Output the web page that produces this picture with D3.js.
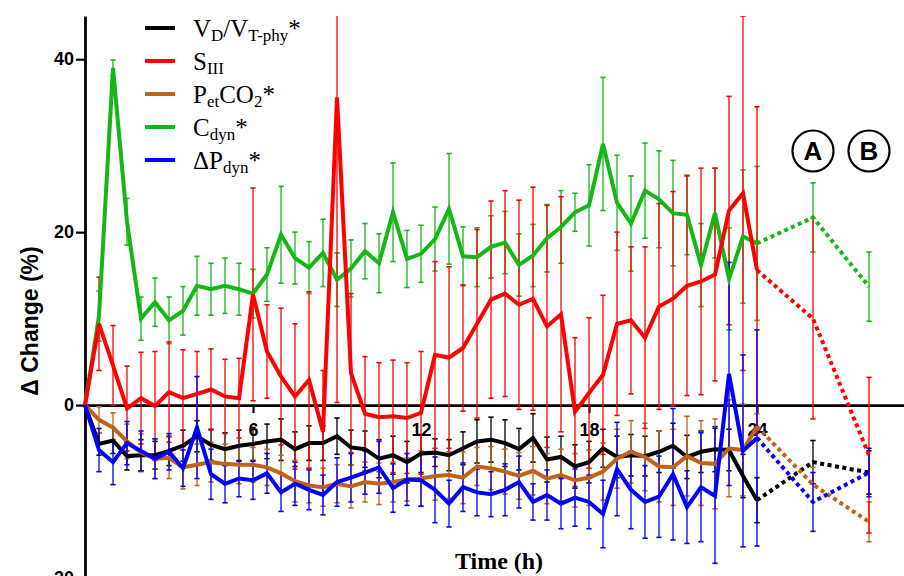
<!DOCTYPE html>
<html>
<head>
<meta charset="utf-8">
<script src="https://cdn.jsdelivr.net/npm/d3@7"></script>
<style>
  body { margin: 0; background: #fff; }
</style>
</head>
<body>
<div id="chart"></div>
<script>
// ---- data (% change from baseline, mean and error) ----
var hours = [0, 0.5, 1, 1.5, 2, 2.5, 3, 3.5, 4, 4.5, 5, 5.5, 6, 6.5, 7, 7.5, 8, 8.5, 9, 9.5, 10, 10.5, 11, 11.5, 12,
             12.5, 13, 13.5, 14, 14.5, 15, 15.5, 16, 16.5, 17, 17.5, 18, 18.5, 19, 19.5, 20, 20.5, 21, 21.5, 22, 22.5, 23, 23.5, 24];
var followHours = [26, 28];        // A and B
var followLabels = ["A", "B"];
var xTicks = [6, 12, 18, 24];
var yTicks = [-20, 0, 20, 40];

var vdvt = [0, -4.5, -4.1, -5.9, -5.8, -5.8, -5.3, -4.7, -3.6, -4.6, -5.1, -4.7, -4.5, -4.2, -4.0, -5.1, -4.4,
            -4.4, -3.6, -4.9, -5.1, -6.2, -5.8, -6.6, -5.6, -5.5, -5.8, -5.0, -4.2, -4.0, -4.4, -5.1, -3.8, -6.3, -6.0, -7.1, -6.6,
            -5.0, -6.0, -5.8, -5.9, -5.4, -4.7, -6.0, -5.4, -5.1, -5.2, -8.2, -11.0];
var vdvtErr = [0, 1.3, 1.5, 1.6, 1.8, 1.6, 1.7, 1.8, 1.8, 1.8, 1.9, 1.8, 1.9, 2.0, 2.4, 2.0, 2.0,
               2.0, 2.1, 2.0, 2.1, 2.2, 2.2, 2.4, 2.2, 1.6, 1.8, 1.9, 2.5, 2.6, 2.7, 2.4, 2.8, 2.6, 2.4, 2.5, 2.4,
               2.2, 2.4, 2.4, 2.3, 2.4, 2.6, 2.5, 2.4, 2.6, 2.4, 2.5, 2.6];
var vdvtFollow = [-6.6, -7.8];
var vdvtFollowErr = [2.5, 2.5];

var siii = [0, 9.4, 4.6, -0.4, 0.8, -0.1, 1.5, 0.8, 1.3, 1.8, 1.0, 0.8, 12.8, 6.2, 3.3, 1.0, 2.9,
            -3.1, 35.6, 3.7, -1.0, -1.4, -1.3, -1.5, -0.9, 5.8, 5.5, 6.6, 9.4, 12.2, 12.9, 11.6, 12.3, 9.1, 10.5, -0.8, 1.4,
            3.5, 9.4, 9.8, 7.8, 11.4, 12.3, 13.8, 14.3, 15.1, 22.5, 24.5, 15.6];
var siiiErr = [0, 5.4, 4.6, 4.9, 5.3, 6.3, 5.8, 5.6, 4.9, 4.7, 4.3, 4.6, 12.3, 5.4, 7.9, 8.4, 10.2,
               7.1, 35.3, 9.2, 6.6, 6.3, 6.5, 6.4, 7.1, 10.8, 10.5, 7.3, 10.9, 11.4, 11.9, 12.1, 12.9, 14.0, 13.6, 8.6, 8.7,
               9.2, 10.6, 8.5, 10.5, 11.9, 12.4, 12.7, 13.1, 12.3, 13.2, 20.5, 18.9];
var siiiFollow = [10.0, -5.8];
var siiiFollowErr = [11.6, 9.0];

var petco2 = [0, -1.7, -2.6, -4.2, -5.5, -6.2, -6.1, -7.2, -6.9, -6.6, -6.8, -6.9, -6.9, -7.2, -7.9, -8.8, -9.3,
              -9.5, -9.1, -9.4, -8.9, -9.1, -8.9, -8.6, -8.5, -8.2, -8.1, -8.4, -7.1, -7.3, -7.7, -8.2, -7.6, -8.5, -8.1, -8.7, -8.4,
              -7.7, -6.2, -5.4, -6.0, -7.1, -7.2, -5.9, -6.7, -6.8, -5.0, -5.2, -2.5];
var petco2Err = [0, 1.5, 1.7, 2.0, 2.2, 2.3, 2.4, 2.5, 2.4, 2.3, 2.3, 2.2, 2.0, 2.1, 2.1, 2.4, 2.0,
                 2.2, 2.2, 2.5, 2.3, 2.4, 2.3, 2.5, 3.2, 2.8, 2.7, 3.0, 2.2, 2.5, 2.6, 2.7, 2.8, 2.9, 3.0, 3.1, 3.2,
                 3.3, 3.4, 3.6, 3.9, 4.1, 4.4, 4.6, 4.9, 5.2, 5.6, 5.3, 1.5];
var petco2Follow = [-9.2, -13.5];
var petco2FollowErr = [2.0, 2.3];

var cdyn = [0, 10.3, 39.0, 21.2, 10.0, 11.9, 9.8, 10.9, 13.8, 13.4, 13.8, 13.4, 12.9, 15.1, 19.7, 17.0, 15.9,
            17.6, 14.5, 15.8, 17.8, 16.4, 22.3, 16.9, 17.5, 19.2, 22.7, 17.2, 17.1, 18.3, 18.8, 16.2, 17.3, 19.3, 20.6, 22.3, 23.1,
            30.2, 23.4, 21.0, 24.8, 23.8, 22.2, 22.0, 16.2, 22.2, 14.6, 19.5, 18.7];
var cdynErr = [0, 2.9, 0.9, 2.7, 2.5, 2.8, 2.7, 2.8, 3.4, 3.0, 3.2, 3.0, 2.8, 3.1, 5.6, 3.0, 3.0,
               3.9, 3.1, 3.3, 3.2, 3.4, 5.7, 3.3, 3.3, 3.7, 6.4, 3.4, 3.4, 3.6, 3.6, 3.6, 3.6, 3.9, 4.2, 2.2, 4.7,
               7.7, 5.5, 5.5, 5.5, 5.6, 6.1, 4.6, 4.8, 5.2, 5.9, 7.7, 8.9];
var cdynFollow = [21.7, 13.7];
var cdynFollowErr = [4.0, 4.0];

var dpdyn = [0, -5.2, -6.6, -4.4, -5.3, -6.2, -5.4, -7.3, -2.6, -8.0, -9.1, -8.5, -8.7, -7.9, -10.1, -9.1, -9.8,
             -10.4, -8.9, -8.4, -7.8, -7.2, -9.6, -8.6, -8.7, -9.8, -11.4, -9.5, -10.1, -10.3, -9.8, -8.9, -11.2, -10.4, -11.4, -10.7, -11.2,
             -12.6, -7.4, -9.8, -11.2, -10.6, -8.0, -11.8, -9.5, -10.5, 3.6, -5.3, -3.8];
var dpdynErr = [0, 2.5, 2.6, 2.5, 2.3, 2.3, 2.1, 2.1, 5.9, 2.9, 2.2, 2.1, 2.2, 2.3, 2.2, 2.5, 2.3,
                2.3, 2.8, 2.8, 2.5, 3.0, 2.8, 3.0, 3.0, 3.8, 2.7, 2.8, 2.7, 2.6, 3.0, 3.0, 2.1, 2.9, 2.9, 3.3, 3.1,
                3.9, 5.4, 4.5, 4.2, 4.7, 7.6, 4.2, 6.3, 7.8, 12.9, 11.1, 12.5];
var dpdynFollow = [-11.2, -7.8];
var dpdynFollowErr = [3.4, 2.8];

// ---- layout ----
var width = 904;
var height = 576;

var svg = d3.select("#chart")
            .append("svg")
            .attr("width", width)
            .attr("height", height);

var x = d3.scaleLinear().domain([0, 29.25]).range([85, 904]);
var y = d3.scaleLinear().domain([-20, 45]).range([578, 16]);

var sans = "'Liberation Sans', Arial, sans-serif";
var serif = "'Liberation Serif', 'Times New Roman', serif";

// clip so the long error bars stop at the top of the axis
svg.append("clipPath").attr("id", "plot")
   .append("rect")
   .attr("x", 0).attr("y", y(45))
   .attr("width", width).attr("height", height);

// y axis
var yAxis = svg.append("g")
               .attr("transform", "translate(" + x(0) + ",0)")
               .call(d3.axisLeft(y).tickValues(yTicks).tickSize(9).tickPadding(2).tickSizeOuter(0));
yAxis.select(".domain").attr("stroke-width", 2.8);
yAxis.selectAll(".tick line").attr("stroke-width", 2.2);
yAxis.selectAll("text").attr("font-family", sans).attr("font-weight", "bold")
     .attr("font-size", 18).attr("fill", "#000");

// x axis drawn along zero
var xAxis = svg.append("g")
               .attr("transform", "translate(0," + y(0) + ")")
               .call(d3.axisBottom(x).tickValues(xTicks).tickSize(8).tickPadding(10).tickSizeOuter(0));
xAxis.select(".domain").attr("stroke-width", 2.8);
xAxis.selectAll(".tick line").attr("stroke-width", 2.2);
xAxis.selectAll("text").attr("font-family", sans).attr("font-weight", "bold")
     .attr("font-size", 18).attr("fill", "#000");

// axis titles
svg.append("text")
   .attr("x", 499).attr("y", 569)
   .attr("text-anchor", "middle")
   .attr("font-family", serif).attr("font-weight", "bold").attr("font-size", 24)
   .text("Time (h)");

svg.append("text")
   .attr("transform", "translate(38,321) rotate(-90)")
   .attr("text-anchor", "middle")
   .attr("font-family", sans).attr("font-weight", "bold").attr("font-size", 23)
   .text("\u0394 Change (%)");

// ---- series ----
var series = [
  { vals: cdyn,   errs: cdynErr,   fv: cdynFollow,   fe: cdynFollowErr,   color: "#16b616" },
  { vals: vdvt,   errs: vdvtErr,   fv: vdvtFollow,   fe: vdvtFollowErr,   color: "#000000" },
  { vals: petco2, errs: petco2Err, fv: petco2Follow, fe: petco2FollowErr, color: "#c0631a" },
  { vals: siii,   errs: siiiErr,   fv: siiiFollow,   fe: siiiFollowErr,   color: "#ff0000" },
  { vals: dpdyn,  errs: dpdynErr,  fv: dpdynFollow,  fe: dpdynFollowErr,  color: "#0000ff" }
];

var plot = svg.append("g").attr("clip-path", "url(#plot)");
var capW = 2.6;

// error bars first, lines over them
series.forEach(function(s) {
  var pts = hours.map(function(t, i) { return { t: t, v: s.vals[i], e: s.errs[i] }; })
                 .concat(followHours.map(function(t, i) { return { t: t, v: s.fv[i], e: s.fe[i] }; }))
                 .filter(function(d) { return d.e > 0; });

  var g = plot.append("g").attr("stroke", s.color).attr("stroke-width", 1.3);
  g.selectAll(".bar").data(pts).enter().append("line")
   .attr("x1", function(d) { return x(d.t); })
   .attr("x2", function(d) { return x(d.t); })
   .attr("y1", function(d) { return y(d.v - d.e); })
   .attr("y2", function(d) { return y(d.v + d.e); });
  [1, -1].forEach(function(sign) {
    g.selectAll(".cap" + sign).data(pts).enter().append("line")
     .attr("stroke-width", 1.6)
     .attr("x1", function(d) { return x(d.t) - capW; })
     .attr("x2", function(d) { return x(d.t) + capW; })
     .attr("y1", function(d) { return y(d.v + sign * d.e); })
     .attr("y2", function(d) { return y(d.v + sign * d.e); });
  });
});

var line = d3.line()
             .x(function(d) { return x(d[0]); })
             .y(function(d) { return y(d[1]); });

series.forEach(function(s) {
  var solid = hours.map(function(t, i) { return [t, s.vals[i]]; });
  var dotted = [[hours[hours.length - 1], s.vals[s.vals.length - 1]]]
                 .concat(followHours.map(function(t, i) { return [t, s.fv[i]]; }));

  plot.append("path")
      .attr("d", line(solid))
      .attr("fill", "none")
      .attr("stroke", s.color)
      .attr("stroke-width", 4)
      .attr("stroke-linejoin", "miter");

  plot.append("path")
      .attr("d", line(dotted))
      .attr("fill", "none")
      .attr("stroke", s.color)
      .attr("stroke-width", 4)
      .attr("stroke-dasharray", "4,3.5");
});

// circled A / B markers
var marks = svg.append("g");
followHours.forEach(function(t, i) {
  marks.append("circle")
       .attr("cx", x(t)).attr("cy", 151).attr("r", 20.5)
       .attr("fill", "#fff").attr("stroke", "#000").attr("stroke-width", 2.2);
  marks.append("text")
       .attr("x", x(t)).attr("y", 151).attr("dy", "0.36em")
       .attr("text-anchor", "middle")
       .attr("font-family", sans).attr("font-weight", "bold").attr("font-size", 26)
       .text(followLabels[i]);
});

// ---- legend ----
var legendItems = [
  { color: "#000000", parts: [["V", 0], ["D", 1], ["/V", 0], ["T-phy", 1], ["*", 0]] },
  { color: "#ff0000", parts: [["S", 0], ["III", 1]] },
  { color: "#c0631a", parts: [["P", 0], ["et", 1], ["CO", 0], ["2", 1], ["*", 0]] },
  { color: "#16b616", parts: [["C", 0], ["dyn", 1], ["*", 0]] },
  { color: "#0000ff", parts: [["\u0394P", 0], ["dyn", 1], ["*", 0]] }
];
var legendRows = [28, 61, 94, 127, 160];

var legend = svg.append("g");
legendItems.forEach(function(item, i) {
  var cy = legendRows[i];
  legend.append("line")
        .attr("x1", 145).attr("x2", 175)
        .attr("y1", cy).attr("y2", cy)
        .attr("stroke", item.color).attr("stroke-width", 4);

  var txt = legend.append("text")
                  .attr("x", 193).attr("y", cy + 9)
                  .attr("font-family", serif).attr("font-size", 25);
  var low = false;
  item.parts.forEach(function(p) {
    var ts = txt.append("tspan").text(p[0]);
    if (p[1] && !low) { ts.attr("dy", 4).attr("font-size", 17); low = true; }
    else if (p[1]) { ts.attr("font-size", 17); }
    else if (low) { ts.attr("dy", -4); low = false; }
  });
});
</script>
</body>
</html>
